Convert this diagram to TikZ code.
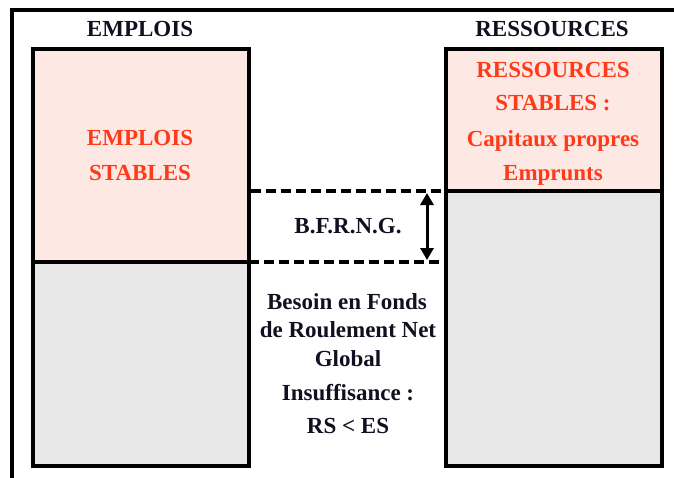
\documentclass[tikz,border=0pt]{standalone}
\usepackage{fontspec}
\setmainfont{Liberation Serif}
\usetikzlibrary{arrows.meta}
\definecolor{redtxt}{RGB}{255,58,24}
\definecolor{pinkfill}{RGB}{253,232,227}
\definecolor{grayfill}{RGB}{231,231,231}
\definecolor{darktxt}{RGB}{16,16,32}
\tikzset{
  lbl/.style={font=\fontsize{23}{27}\selectfont\bfseries, anchor=base, inner sep=0pt, text=darktxt},
  redlbl/.style={lbl, text=redtxt},
  boxline/.style={draw=black, line width=3.2pt},
  dashline/.style={draw=black, line width=3.2pt, dash pattern=on 10pt off 5pt},
  arrowline/.style={draw=black, line width=3pt}
}
\begin{document}
\begin{tikzpicture}[x=1pt,y=-1pt]
\useasboundingbox (0,0) rectangle (674,477);
\clip (0,0) rectangle (674,477);
% outer frame
\coordinate (fbl) at (12,490);
\coordinate (ftl) at (12,10);
\coordinate (ftr) at (690,10);
\draw[line width=3.2pt] (fbl) -- (ftl) -- (ftr);
% fills
\fill[pinkfill] (33,49) rectangle (249,262);
\fill[grayfill] (33,262) rectangle (249,466);
\fill[pinkfill] (446,49) rectangle (662,191);
\fill[grayfill] (446,191) rectangle (662,466);
% boxes
\coordinate (ltl) at (33,49);
\coordinate (lbr) at (249,466);
\coordinate (lml) at (33,262);
\coordinate (lmr) at (249,262);
\coordinate (rtl) at (446,49);
\coordinate (rbr) at (662,466);
\coordinate (rml) at (446,191);
\coordinate (rmr) at (662,191);
\draw[boxline] (ltl) rectangle (lbr);
\draw[boxline] (lml) -- (lmr);
\draw[boxline] (rtl) rectangle (rbr);
\draw[boxline] (rml) -- (rmr);
% dashed lines
\coordinate (d1a) at (251,191);
\coordinate (d2b) at (446,262);
\draw[dashline] (d1a) -- (rml);
\draw[dashline] (lmr) -- (d2b);
% arrow
\coordinate (aT) at (427,193);
\coordinate (aB) at (427,260);
\draw[arrowline, {Triangle[length=12pt,width=13pt]}-{Triangle[length=12pt,width=13pt]}] (aT) -- (aB);
% headers
\node[lbl] (hE) at (140,36) {EMPLOIS};
\node[lbl] (hR) at (552,36) {RESSOURCES};
% red texts
\node[redlbl] (es1) at (140,145) {EMPLOIS};
\node[redlbl] (es2) at (140,180) {STABLES};
\node[redlbl] (rs1) at (553,77) {RESSOURCES};
\node[redlbl] (rs2) at (553,110) {STABLES :};
\node[redlbl] (rs3) at (553,146) {Capitaux propres};
\node[redlbl] (rs4) at (553,180) {Emprunts};
% middle texts
\node[lbl] (bf) at (348,233) {B.F.R.N.G.};
\node[lbl] (m1) at (347,309) {Besoin en Fonds};
\node[lbl] (m2) at (348,337) {de Roulement Net};
\node[lbl] (m3) at (348,366) {Global};
\node[lbl] (m4) at (348,400) {Insuffisance :};
\node[lbl] (m5) at (348,433) {RS < ES};
\end{tikzpicture}
\end{document}
